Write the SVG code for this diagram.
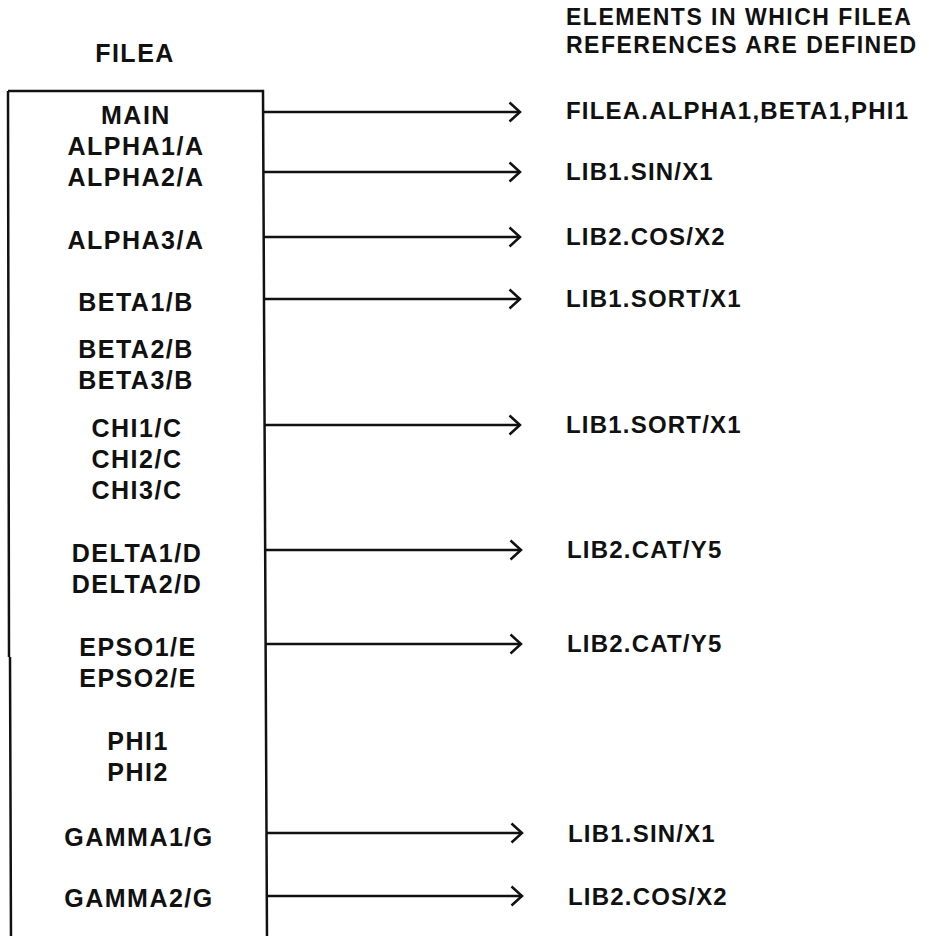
<svg xmlns="http://www.w3.org/2000/svg" width="929" height="936" viewBox="0 0 929 936">
<defs>
<style>
text{font-family:"Liberation Sans",Arial,sans-serif;font-size:24px;font-weight:bold;fill:#111}
.c{text-anchor:middle;font-size:25px;letter-spacing:1.5px}
.h{font-size:23px;letter-spacing:1.5px}
.r{letter-spacing:1.2px}
.box{fill:none;stroke:#111;stroke-width:2.5}
.conn{fill:none;stroke:#111;stroke-width:2.5;marker-end:url(#chev)}
</style>
<marker id="chev" viewBox="0 0 14 22" refX="12" refY="11" markerWidth="14" markerHeight="22" markerUnits="userSpaceOnUse" orient="auto">
<path d="M1.5,1.5 L12,11 L1.5,20.5" fill="none" stroke="#111" stroke-width="2.5"/>
</marker>
</defs>
<rect width="929" height="936" fill="#fff"/>
<g id="header">
<text class="h" x="566" y="25">ELEMENTS IN WHICH FILEA</text>
<text class="h" x="566" y="53">REFERENCES ARE DEFINED</text>
</g>
<g id="filea">
<text class="c" x="135" y="62">FILEA</text>
<path class="box" d="M8,91 L263,91 L267,940 M8,91 L9,657 M10,657 L11,940"/>
<text class="c" x="136" y="124">MAIN</text>
<text class="c" x="136" y="155">ALPHA1/A</text>
<text class="c" x="136" y="186">ALPHA2/A</text>
<text class="c" x="136" y="249">ALPHA3/A</text>
<text class="c" x="136" y="311">BETA1/B</text>
<text class="c" x="136" y="358">BETA2/B</text>
<text class="c" x="136" y="389">BETA3/B</text>
<text class="c" x="137" y="437">CHI1/C</text>
<text class="c" x="137" y="468">CHI2/C</text>
<text class="c" x="137" y="499">CHI3/C</text>
<text class="c" x="137" y="562">DELTA1/D</text>
<text class="c" x="137" y="593">DELTA2/D</text>
<text class="c" x="138" y="656">EPSO1/E</text>
<text class="c" x="138" y="687">EPSO2/E</text>
<text class="c" x="138" y="750">PHI1</text>
<text class="c" x="138" y="781">PHI2</text>
<text class="c" x="139" y="846">GAMMA1/G</text>
<text class="c" x="139" y="907">GAMMA2/G</text>
</g>
<g id="connectors">
<line class="conn" x1="263" y1="112" x2="520" y2="112"/>
<line class="conn" x1="263" y1="172" x2="520" y2="172"/>
<line class="conn" x1="264" y1="237" x2="520" y2="237"/>
<line class="conn" x1="264" y1="299" x2="520" y2="299"/>
<line class="conn" x1="264" y1="425" x2="520" y2="425"/>
<line class="conn" x1="265" y1="550" x2="521" y2="550"/>
<line class="conn" x1="266" y1="644" x2="521" y2="644"/>
<line class="conn" x1="267" y1="833" x2="522" y2="833"/>
<line class="conn" x1="267" y1="896" x2="522" y2="896"/>
</g>
<g id="targets">
<text class="r" x="566" y="119">FILEA.ALPHA1,BETA1,PHI1</text>
<text class="r" x="566" y="180">LIB1.SIN/X1</text>
<text class="r" x="566" y="245">LIB2.COS/X2</text>
<text class="r" x="566" y="307">LIB1.SORT/X1</text>
<text class="r" x="566" y="433">LIB1.SORT/X1</text>
<text class="r" x="567" y="558">LIB2.CAT/Y5</text>
<text class="r" x="567" y="652">LIB2.CAT/Y5</text>
<text class="r" x="568" y="842">LIB1.SIN/X1</text>
<text class="r" x="568" y="905">LIB2.COS/X2</text>
</g>
</svg>
